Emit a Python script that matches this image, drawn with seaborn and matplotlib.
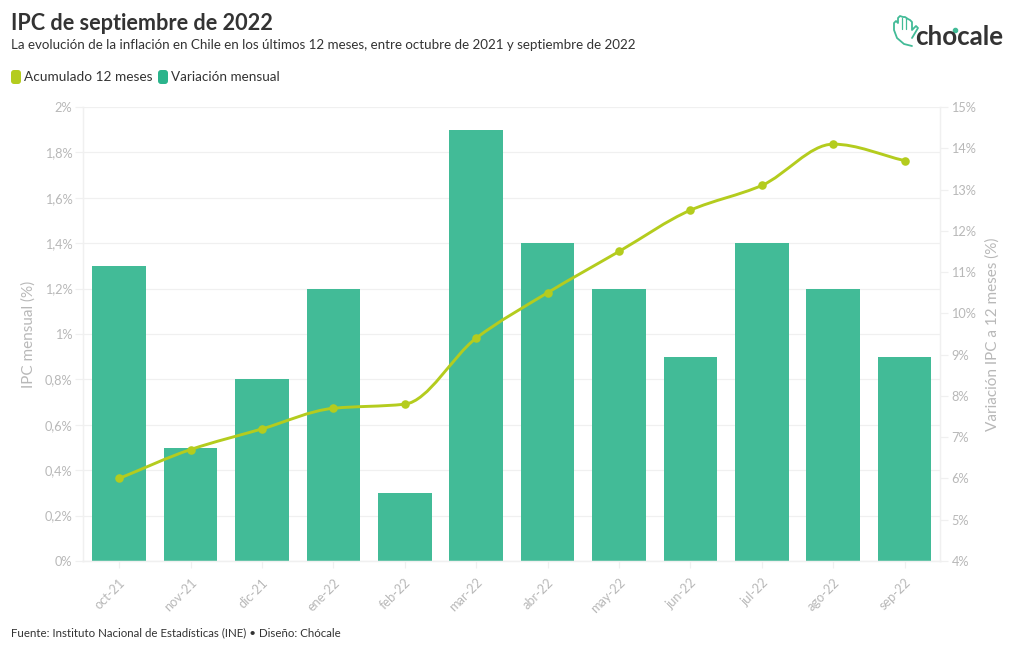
import numpy as np
import pandas as pd
import matplotlib
matplotlib.use("Agg")
import matplotlib.pyplot as plt
import seaborn as sns
from matplotlib.patches import FancyBboxPatch, PathPatch
from matplotlib.path import Path

# ================= DATA =================
meses = ["oct-21", "nov-21", "dic-21", "ene-22", "feb-22", "mar-22",
         "abr-22", "may-22", "jun-22", "jul-22", "ago-22", "sep-22"]
variacion_mensual = [1.3, 0.5, 0.8, 1.2, 0.3, 1.9, 1.4, 1.2, 0.9, 1.4, 1.2, 0.9]
acumulado_12m = [6.0, 6.7, 7.2, 7.7, 7.8, 9.4, 10.5, 11.5, 12.5, 13.1, 14.1, 13.7]
ticks_izq = [0, 0.2, 0.4, 0.6, 0.8, 1, 1.2, 1.4, 1.6, 1.8, 2]
etiquetas_izq = ["0%", "0,2%", "0,4%", "0,6%", "0,8%", "1%", "1,2%", "1,4%", "1,6%", "1,8%", "2%"]
ticks_der = [4, 5, 6, 7, 8, 9, 10, 11, 12, 13, 14, 15]
etiquetas_der = ["4%", "5%", "6%", "7%", "8%", "9%", "10%", "11%", "12%", "13%", "14%", "15%"]

VERDE = "#42bb97"
VERDE_LEYENDA = "#2bb48c"
LIMA = "#b4cc1e"
GRIS = "#b8b8b8"
GRID = "#f0f0f0"
OSCURO = "#333333"

W, H = 1020, 650

sns.set_theme(style="white")
plt.rcParams["font.family"] = ["Lato", "DejaVu Sans"]

fig = plt.figure(figsize=(W / 100, H / 100), dpi=100, facecolor="white")
ax = fig.add_axes([83.4 / W, 1 - 561 / H, (940.4 - 83.4) / W, (561 - 107) / H])


def fx(x):
    return x / W


def fy(y):
    return 1 - y / H


# ================= BARS =================
df = pd.DataFrame({"mes": meses, "mensual": variacion_mensual, "acumulado": acumulado_12m})
sns.barplot(data=df, x="mes", y="mensual", color=VERDE, saturation=1, width=0.75,
            linewidth=0, ax=ax, zorder=2)
ax.set_xlim(-0.5, 11.5)
ax.set_ylim(0, 2)
ax.set_yticks(ticks_izq)
ax.set_yticklabels(etiquetas_izq)
ax.set_xlabel("")
ax.set_ylabel("IPC mensual (%)", color=GRIS, fontsize=11)
ax.yaxis.set_label_coords((35 - 83) / (940 - 83), 0.5)
ax.grid(axis="y", color=GRID, linewidth=0.9, zorder=0)
ax.set_axisbelow(True)
ax.tick_params(axis="y", colors=GRID, length=6, width=0.9, labelcolor=GRIS, labelsize=9.2, left=True, pad=2)
ax.tick_params(axis="x", colors=GRID, length=5, width=0.9, labelcolor=GRIS, labelsize=9.2, bottom=True, pad=6)
plt.setp(ax.get_xticklabels(), rotation=45, ha="right", rotation_mode="anchor")

# ================= LINE =================
ax2 = ax.twinx()
ax2.set_ylim(4, 15)
ax2.set_yticks(ticks_der)
ax2.set_yticklabels(etiquetas_der)
ax2.set_ylabel("Variación IPC a 12 meses (%)", color=GRIS, fontsize=11)
ax2.yaxis.set_label_coords(1 + (985 - 940) / (940 - 83), 0.5)
ax2.tick_params(axis="y", colors=GRID, length=6, width=0.9, labelcolor=GRIS, labelsize=9.2, right=True, pad=2)
ax2.grid(False)

# curva suave entre los puntos (tangentes monotonas, sin bajadas falsas)
xs = np.arange(len(acumulado_12m), dtype=float)
ys = np.array(acumulado_12m)
dif = np.diff(ys)
tang = np.zeros(len(ys))
tang[0], tang[-1] = dif[0], dif[-1]
for i in range(1, len(ys) - 1):
    if dif[i - 1] * dif[i] > 0:
        tang[i] = 2 * dif[i - 1] * dif[i] / (dif[i - 1] + dif[i])
verts = [(xs[0], ys[0])]
codes = [Path.MOVETO]
for i in range(len(xs) - 1):
    verts += [(xs[i] + 1 / 3, ys[i] + tang[i] / 3),
              (xs[i + 1] - 1 / 3, ys[i + 1] - tang[i + 1] / 3),
              (xs[i + 1], ys[i + 1])]
    codes += [Path.CURVE4] * 3
ax2.add_patch(PathPatch(Path(verts, codes), facecolor="none", edgecolor=LIMA, linewidth=2.1, zorder=3))
sns.scatterplot(x=xs, y=ys, color=LIMA, s=38, linewidth=0, ax=ax2, zorder=4, legend=False)

for a in (ax, ax2):
    for s in a.spines.values():
        s.set_color(GRID)
        s.set_linewidth(0.9)
    a.spines["top"].set_visible(False)

# ================= TEXTS =================
fig.text(fx(11), fy(24), "IPC de septiembre de 2022", fontsize=15.6, fontweight="bold", color=OSCURO, va="center")
fig.text(fx(11), fy(45), "La evolución de la inflación en Chile en los últimos 12 meses, entre octubre de 2021 y septiembre de 2022",
         fontsize=9.68, color=OSCURO, va="center")
fig.text(fx(24), fy(77), "Acumulado 12 meses", fontsize=9.8, color=OSCURO, va="center")
fig.text(fx(171), fy(77), "Variación mensual", fontsize=9.75, color=OSCURO, va="center")
fig.text(fx(11), fy(633), "Fuente: Instituto Nacional de Estadísticas (INE) • Diseño: Chócale",
         fontsize=8.27, color=OSCURO, va="center")

# ================= LEGEND SWATCHES =================
for x0, col in [(13, LIMA), (160, VERDE_LEYENDA)]:
    fig.patches.append(FancyBboxPatch((x0, H - 82), 6, 10, boxstyle="round,pad=2,rounding_size=3",
                                      facecolor=col, edgecolor="none", transform=None))

# ================= LOGO =================
mano = [(912, 46), (904, 44), (897, 38), (894, 30), (894, 23), (896, 21), (898, 23), (898, 18), (900, 16),
        (903, 17), (905, 17), (908, 19), (910, 20), (912, 22), (912, 30), (916, 26), (918, 28), (912, 38)]
fig.add_artist(plt.Line2D([p[0] / W for p in mano], [fy(p[1]) for p in mano], color=VERDE, linewidth=1.3))
for x_ in (902, 906):
    fig.add_artist(plt.Line2D([fx(x_), fx(x_)], [fy(18), fy(29)], color=VERDE, linewidth=0.9))
fig.text(fx(915.5), fy(45), "chocale", fontsize=18.7, fontweight="bold", color=OSCURO, va="baseline")
fig.add_artist(plt.Line2D([fx(955.5)], [fy(30)], marker="o", markersize=3, color=VERDE, linewidth=0))

fig.savefig("out.png", dpi=100, facecolor="white")
